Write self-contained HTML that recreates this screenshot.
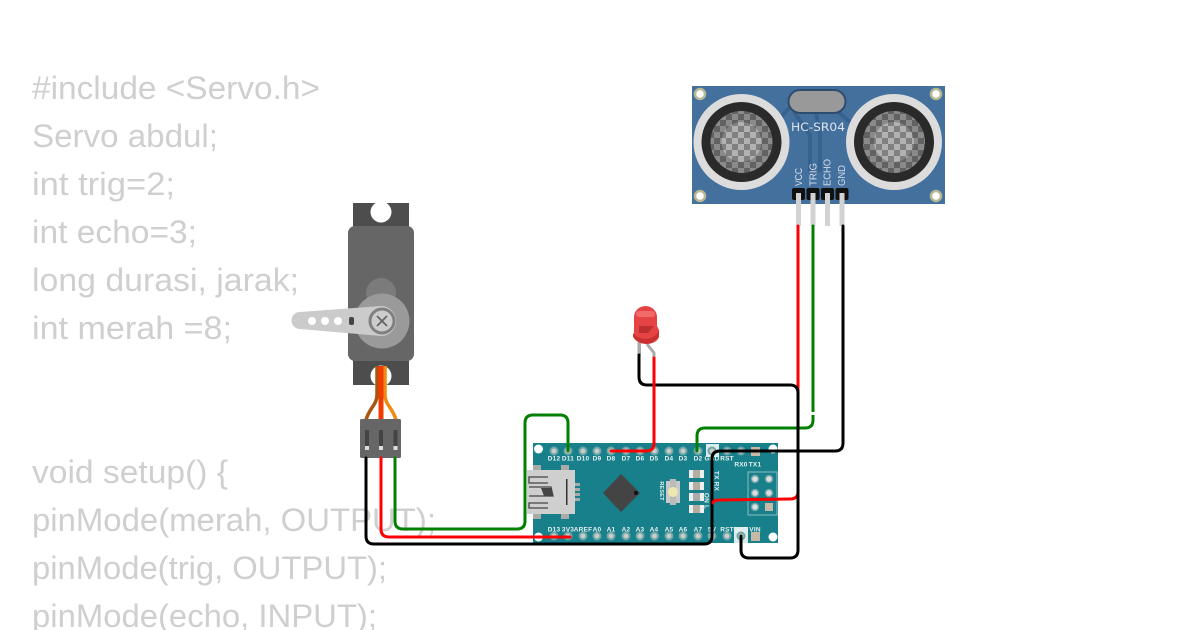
<!DOCTYPE html>
<html><head><meta charset="utf-8"><style>
html,body{margin:0;padding:0;background:#fff;width:1200px;height:630px;overflow:hidden}
svg{display:block}
.c{font-family:"Liberation Sans",sans-serif;font-size:32px;fill:#cfcfcf}
.l{font-family:"Liberation Sans",sans-serif;font-size:6.5px;fill:#e8f0f0;font-weight:bold;text-anchor:middle;letter-spacing:.2px}
.s{font-family:"Liberation Sans",sans-serif;font-size:10.5px;fill:#d5deea}
.w{fill:none;stroke-width:3;stroke-linecap:round;stroke-linejoin:round}
</style></head><body>
<svg width="1200" height="630" viewBox="0 0 1200 630" xmlns="http://www.w3.org/2000/svg">
<defs>
<pattern id="ck" x="0" y="0" width="12" height="12" patternUnits="userSpaceOnUse"><rect width="12" height="12" fill="#8a8a8a"/><rect width="6" height="6" fill="#626262"/><rect x="6" y="6" width="6" height="6" fill="#626262"/></pattern>
<pattern id="ck2" x="0" y="0" width="12" height="12" patternUnits="userSpaceOnUse"><rect width="12" height="12" fill="#b2b2b2"/><rect width="6" height="6" fill="#808080"/><rect x="6" y="6" width="6" height="6" fill="#808080"/></pattern>
</defs>

<!-- code -->
<text class="c" x="32" y="99" textLength="288" lengthAdjust="spacingAndGlyphs">#include &lt;Servo.h&gt;</text>
<text class="c" x="32" y="147" textLength="186" lengthAdjust="spacingAndGlyphs">Servo abdul;</text>
<text class="c" x="32" y="195" textLength="143" lengthAdjust="spacingAndGlyphs">int trig=2;</text>
<text class="c" x="32" y="243" textLength="165" lengthAdjust="spacingAndGlyphs">int echo=3;</text>
<text class="c" x="32" y="291" textLength="267" lengthAdjust="spacingAndGlyphs">long durasi, jarak;</text>
<text class="c" x="32" y="339" textLength="200" lengthAdjust="spacingAndGlyphs">int merah =8;</text>
<text class="c" x="32" y="483" textLength="196" lengthAdjust="spacingAndGlyphs">void setup() {</text>
<text class="c" x="32" y="531" textLength="404" lengthAdjust="spacingAndGlyphs">pinMode(merah, OUTPUT);</text>
<text class="c" x="32" y="579" textLength="355" lengthAdjust="spacingAndGlyphs">pinMode(trig, OUTPUT);</text>
<text class="c" x="32" y="627" textLength="345" lengthAdjust="spacingAndGlyphs">pinMode(echo, INPUT);</text>

<!-- HC-SR04 -->
<rect x="692" y="86" width="253" height="118" fill="#44709d"/>
<g fill="none" stroke="#38628e" stroke-width="4">
<path d="M791 106L780 118"/><path d="M794 112L810 135V172"/><path d="M816 112L820 135V172"/><path d="M838 112L850 122"/>
</g>
<g fill="#fff" stroke="#b9b894" stroke-width="2.500">
<circle cx="700" cy="94" r="5"/><circle cx="936" cy="94" r="5"/><circle cx="700" cy="196" r="5"/><circle cx="936" cy="196" r="5"/>
</g>
<g>
<circle cx="741.500" cy="142" r="48" fill="#dcdcdc"/><circle cx="741.500" cy="142" r="40" fill="#2a2a2a"/><circle cx="741.500" cy="142" r="31" fill="url(#ck)"/><circle cx="741.500" cy="142" r="20" fill="url(#ck2)"/>
<circle cx="894" cy="142" r="48" fill="#dcdcdc"/><circle cx="894" cy="142" r="40" fill="#2a2a2a"/><circle cx="894" cy="142" r="31" fill="url(#ck)"/><circle cx="894" cy="142" r="20" fill="url(#ck2)"/>
</g>
<rect x="788.500" y="90" width="57" height="23" rx="11.500" fill="#999" stroke="#2e4c6e" stroke-width="2"/>
<text x="791" y="131" font-family="'DejaVu Sans','Liberation Sans',sans-serif" font-size="11.500" fill="#dde4ee" textLength="54" lengthAdjust="spacingAndGlyphs">HC-SR04</text>
<text class="s" transform="translate(802,186) rotate(-90)" textLength="18" lengthAdjust="spacingAndGlyphs">VCC</text>
<text class="s" transform="translate(816.500,186) rotate(-90)" textLength="23" lengthAdjust="spacingAndGlyphs">TRIG</text>
<text class="s" transform="translate(830.500,186) rotate(-90)" textLength="27" lengthAdjust="spacingAndGlyphs">ECHO</text>
<text class="s" transform="translate(845,186) rotate(-90)" textLength="21" lengthAdjust="spacingAndGlyphs">GND</text>
<g fill="#d2d2d2">
<rect x="796" y="198" width="5" height="28"/><rect x="810.500" y="198" width="5" height="28"/><rect x="825" y="198" width="5" height="28"/><rect x="839.500" y="198" width="5" height="28"/>
</g>
<g fill="#111">
<rect x="792" y="188" width="13" height="12" rx="2"/><rect x="806.500" y="188" width="13" height="12" rx="2"/><rect x="821" y="188" width="13" height="12" rx="2"/><rect x="835.500" y="188" width="13" height="12" rx="2"/>
</g>
<g fill="#d2d2d2">
<rect x="796" y="193" width="5" height="8"/><rect x="810.500" y="193" width="5" height="8"/><rect x="825" y="193" width="5" height="8"/><rect x="839.500" y="193" width="5" height="8"/>
</g>

<!-- Servo -->
<rect x="353" y="203" width="56" height="182" fill="#4d4d4d"/>
<circle cx="381" cy="212" r="10.500" fill="#fff"/>
<circle cx="381" cy="376" r="10.500" fill="#fff"/>
<rect x="348" y="226" width="66" height="135" rx="7" fill="#666"/>
<circle cx="381" cy="293" r="15" fill="#7b7b7b"/>
<circle cx="382" cy="321" r="27.500" fill="#9a9a9a"/>
<path d="M300 312L381 306A15 15 0 0 1 381 336L300 329A8.500 8.500 0 0 1 300 312Z" fill="#cbcbcb"/>
<g fill="#fff"><circle cx="312" cy="321" r="4"/><circle cx="325" cy="321" r="4"/><circle cx="338" cy="321" r="4"/></g>
<rect x="349" y="317" width="5" height="8" rx="2" fill="#444"/>
<circle cx="382" cy="321" r="12" fill="#ccc" stroke="#808080" stroke-width="3"/>
<path d="M377 316L387 326M387 316L377 326" stroke="#666" stroke-width="1.800"/>

<!-- servo wires -->
<path d="M377 366V395C377 405 369 408 366 420" fill="none" stroke="#a8550f" stroke-width="3.500"/>
<path d="M385 366V395C385 405 393 408 396 420" fill="none" stroke="#f08a10" stroke-width="3.500"/>
<rect x="378.500" y="366" width="5" height="54" fill="#f33a00"/>
<rect x="360" y="419" width="41" height="39" rx="1.500" fill="#666"/>
<g fill="#444"><rect x="365" y="430" width="4" height="20"/><rect x="379" y="430" width="4" height="20"/><rect x="393.500" y="430" width="4" height="20"/></g>
<g fill="#ddd"><rect x="365" y="446" width="4" height="4"/><rect x="379" y="446" width="4" height="4"/><rect x="393.500" y="446" width="4" height="4"/></g>

<!-- Arduino Nano -->
<rect x="533" y="443" width="245" height="100" fill="#17808b"/>
<g fill="#fff">
<circle cx="538.500" cy="449" r="4.500"/><circle cx="538.500" cy="537" r="4.500"/><circle cx="773" cy="449" r="4.500"/><circle cx="773" cy="537" r="4.500"/>
</g>
<rect x="706" y="444" width="13" height="13" fill="#dcecec"/>
<rect x="734" y="527" width="14" height="16" fill="#dcecec"/>
<g fill="#c8cdc8" stroke="#6fa5a8" stroke-width="2">
<circle cx="554" cy="451" r="3.500"/><circle cx="568" cy="451" r="3.500"/><circle cx="583" cy="451" r="3.500"/><circle cx="597" cy="451" r="3.500"/><circle cx="611" cy="451" r="3.500"/><circle cx="626" cy="451" r="3.500"/><circle cx="640" cy="451" r="3.500"/><circle cx="654.500" cy="451" r="3.500"/><circle cx="669" cy="451" r="3.500"/><circle cx="683" cy="451" r="3.500"/><circle cx="698" cy="451" r="3.500"/><circle cx="712" cy="451" r="3.500"/><circle cx="727" cy="451" r="3.500"/><circle cx="741" cy="451" r="3.500"/>
<circle cx="554" cy="536" r="3.500"/><circle cx="568" cy="536" r="3.500"/><circle cx="583" cy="536" r="3.500"/><circle cx="597" cy="536" r="3.500"/><circle cx="611" cy="536" r="3.500"/><circle cx="626" cy="536" r="3.500"/><circle cx="640" cy="536" r="3.500"/><circle cx="654.500" cy="536" r="3.500"/><circle cx="669" cy="536" r="3.500"/><circle cx="683" cy="536" r="3.500"/><circle cx="698" cy="536" r="3.500"/><circle cx="712" cy="536" r="3.500"/><circle cx="727" cy="536" r="3.500"/><circle cx="741" cy="536" r="3.500"/>
</g>
<rect x="751" y="447" width="9" height="9" fill="#c8b8a8"/><rect x="751" y="532" width="9" height="9" fill="#c8b8a8"/>
<text class="l" x="554" y="460.500">D12</text><text class="l" x="568" y="460.500">D11</text><text class="l" x="583" y="460.500">D10</text><text class="l" x="597" y="460.500">D9</text><text class="l" x="611" y="460.500">D8</text><text class="l" x="626" y="460.500">D7</text><text class="l" x="640" y="460.500">D6</text><text class="l" x="654" y="460.500">D5</text><text class="l" x="669" y="460.500">D4</text><text class="l" x="683" y="460.500">D3</text><text class="l" x="698" y="460.500">D2</text><text class="l" x="712" y="460.500">GND</text><text class="l" x="727" y="460.500">RST</text><text class="l" x="741" y="466.500">RX0</text><text class="l" x="755" y="466.500">TX1</text>
<text class="l" x="554" y="531.500">D13</text><text class="l" x="568" y="531.500">3V3</text><text class="l" x="583" y="531.500">AREF</text><text class="l" x="597" y="531.500">A0</text><text class="l" x="611" y="531.500">A1</text><text class="l" x="626" y="531.500">A2</text><text class="l" x="640" y="531.500">A3</text><text class="l" x="654" y="531.500">A4</text><text class="l" x="669" y="531.500">A5</text><text class="l" x="683" y="531.500">A6</text><text class="l" x="698" y="531.500">A7</text><text class="l" x="712" y="531.500">5V</text><text class="l" x="727" y="531.500">RST</text><text class="l" x="741" y="531.500">GND</text><text class="l" x="755" y="531.500">VIN</text>
<text class="l" transform="translate(714.500,481) rotate(90)">TX RX</text>
<text class="l" transform="translate(704.500,501) rotate(90)">ON L</text>
<text class="l" transform="translate(660,491) rotate(90)" style="font-size:5.500px">RESET</text>
<!-- USB -->
<g fill="#aaa">
<rect x="533" y="465" width="8" height="6"/><rect x="561" y="465" width="8" height="6"/><rect x="533" y="513" width="8" height="6"/><rect x="561" y="513" width="8" height="6"/>
<rect x="575" y="483" width="5" height="3"/><rect x="575" y="488" width="5" height="3"/><rect x="575" y="493" width="5" height="3"/><rect x="575" y="498" width="5" height="3"/>
</g>
<rect x="527" y="470" width="48" height="44" fill="#cfcfcf"/>
<path d="M548 477H529V483H548M529 487H551L553 496H529M548 503H529V508H548" fill="none" stroke="#444" stroke-width="1.300"/>
<path d="M541 488H551L553 496H544Z" fill="#444"/>
<rect x="566" y="479" width="1.500" height="26" fill="#333"/>
<!-- chip -->
<path d="M621 474L640 493L621 512L603 493Z" fill="#444"/>
<circle cx="636" cy="493" r="2" fill="#111"/>
<!-- reset -->
<rect x="666" y="481" width="14" height="22" fill="#c9c9c9"/><rect x="670" y="479" width="6" height="26" fill="#bbb"/>
<circle cx="673" cy="492" r="5" fill="#ece8b0"/>
<!-- LEDs -->
<g>
<rect x="689" y="470" width="15" height="8" fill="#eee"/><rect x="693" y="470" width="7" height="8" fill="#b5ada0"/>
<rect x="689" y="482" width="15" height="8" fill="#eee"/><rect x="693" y="482" width="7" height="8" fill="#b5ada0"/>
<rect x="689" y="493" width="15" height="8" fill="#eee"/><rect x="693" y="493" width="7" height="8" fill="#aaa"/>
<rect x="689" y="505" width="15" height="8" fill="#eee"/><rect x="693" y="505" width="7" height="8" fill="#b5ada0"/>
</g>
<!-- ICSP -->
<rect x="748" y="472" width="29" height="43" fill="none" stroke="#8bbcc0" stroke-width="1"/>
<g fill="#ddd" stroke="#6fa5a8" stroke-width="1.500"><circle cx="755" cy="479" r="3.500"/><circle cx="769" cy="479" r="3.500"/><circle cx="755" cy="493" r="3.500"/><circle cx="769" cy="493" r="3.500"/><circle cx="755" cy="507" r="3.500"/></g>
<rect x="765" y="503" width="8" height="8" fill="#c8b8a8"/>

<!-- LED -->
<rect x="637.500" y="342" width="3.500" height="13" fill="#aaa"/>
<path d="M647 344L654 353V358" fill="none" stroke="#aaa" stroke-width="3"/>
<path d="M634 338V317A11.500 11 0 0 1 657 317V326L659 330V337A13 9 0 0 1 634 338Z" fill="#e64444"/>
<path d="M633 337C640 346 653 346 659 336V331C653 341 640 341 633 333Z" fill="#c93030"/>
<rect x="636" y="311" width="19" height="6" rx="3" fill="#f06a6a"/>
<path d="M639 326H654L648 333H639Z" fill="#bd2e2e"/>

<!-- wires -->
<path class="w" stroke="#000" d="M366 458V536Q366 544 374 544H704Q712 544 712 536V459Q712 451 720 451H835Q843 451 843 443V226"/>
<path class="w" stroke="#f00" d="M381 458V529Q381 537 389 537H570"/>
<path class="w" stroke="#008000" d="M395 458V521Q395 529 403 529H517Q525 529 525 521V423Q525 415 533 415H560Q568 415 568 423V451"/>
<path class="w" stroke="#008000" d="M813 226V420Q813 428 805 428H705Q697 428 697 436V451"/>
<rect x="811" y="412" width="4" height="3" fill="#fff"/>
<path class="w" stroke="#f00" d="M798 226V492Q798 499 790 499L720 500Q713 500 713 503"/>
<path class="w" stroke="#000" d="M639 355V377Q639 385 647 385H790Q798 385 798 393V550Q798 558 790 558H749Q741 558 741 550V536"/>
<path class="w" stroke="#f00" d="M654 358V443Q654 451 646 451H611"/>
</svg>
</body></html>
